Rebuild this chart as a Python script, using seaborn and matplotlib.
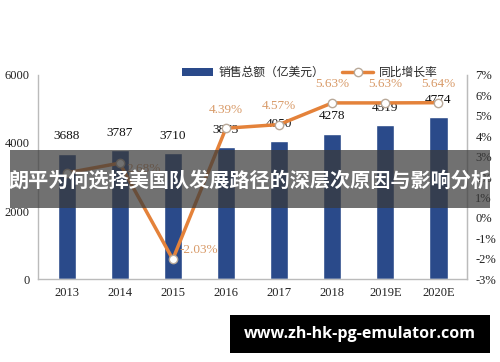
import matplotlib
matplotlib.use("Agg")
import matplotlib.pyplot as plt
import seaborn as sns
import pandas as pd
from matplotlib.patches import Rectangle
from matplotlib.lines import Line2D
from matplotlib.patches import Patch

years = ["2013", "2014", "2015", "2016", "2017", "2018", "2019E", "2020E"]
sales = [3688, 3787, 3710, 3873, 4050, 4278, 4519, 4774]
growth = [2.2, 2.68, -2.03, 4.39, 4.57, 5.63, 5.63, 5.64]
growth_labels = ["", "2.68%", "-2.03%", "4.39%", "4.57%", "5.63%", "5.63%", "5.64%"]
left_ticks = [0, 2000, 4000, 6000]
right_ticks = [-3, -2, -1, 0, 1, 2, 3, 4, 5, 6, 7]
bar_name = "销售总额（亿美元）"
line_name = "同比增长率"
banner = "朗平为何选择美国队发展路径的深层次原因与影响分析"
watermark = "www.zh-hk-pg-emulator.com"

df = pd.DataFrame({"year": years, "sales": sales, "growth": growth})

sns.set_style("white")
plt.rcParams['font.family'] = ['Liberation Serif', 'Noto Sans CJK SC', 'DejaVu Sans']

fig = plt.figure(figsize=(5, 3.62), dpi=100)
ax = fig.add_axes([0.076, 0.229, 0.858, 0.564])
bar_color = "#2A4A8A"
line_color = "#E4823A"
sns.barplot(data=df, x="year", y="sales", color=bar_color, width=0.34,
            saturation=1, ax=ax)
ax.set_ylim(0, 6000)
ax.set_yticks(left_ticks)
ax.set_xlabel("")
ax.set_ylabel("")
ax.tick_params(axis="both", labelsize=9, colors="#222222", length=0, pad=6)
for s in ["top"]:
    ax.spines[s].set_visible(False)
for s in ["left", "right", "bottom"]:
    ax.spines[s].set_color("#BBBBBB")
    ax.spines[s].set_linewidth(1)

for i, v in enumerate(sales):
    ax.annotate(str(v), (i, v), xytext=(0, 8), textcoords="offset points",
                ha="center", va="bottom", fontsize=9.5, color="#111111")

ax2 = ax.twinx()
sns.lineplot(data=df, x="year", y="growth", color=line_color, linewidth=2.5,
             marker="o", markersize=6, markerfacecolor="white",
             markeredgecolor="#B8A898", markeredgewidth=1, ax=ax2, sort=False)
ax2.set_ylim(-3, 7)
ax2.set_yticks(right_ticks)
ax2.set_yticklabels([f"{t}%" for t in right_ticks])
ax2.set_ylabel("")
ax2.tick_params(axis="y", labelsize=9, colors="#222222", length=0, pad=6)
for s in ["top", "left", "bottom"]:
    ax2.spines[s].set_visible(False)
ax2.spines["right"].set_color("#BBBBBB")

lab_col = "#D89A68"
for i, (g, t) in enumerate(zip(growth, growth_labels)):
    if not t:
        continue
    if i == 1:
        ax2.annotate(t, (i, g), xytext=(5, -4), textcoords="offset points",
                     ha="left", va="center", fontsize=9.5, color=lab_col)
    elif i == 2:
        ax2.annotate(t, (i, g), xytext=(5, 7), textcoords="offset points",
                     ha="left", va="center", fontsize=9.5, color=lab_col)
    else:
        ax2.annotate(t, (i, g), xytext=(0, 9), textcoords="offset points",
                     ha="center", va="bottom", fontsize=9.5, color=lab_col)

handles = [Patch(facecolor=bar_color, edgecolor="none"),
           Line2D([0], [0], color=line_color, lw=2.5, marker="o", markersize=6,
                  markerfacecolor="white", markeredgecolor="#B8A898")]
fig.legend(handles, [bar_name, line_name], loc="center", ncol=2,
           bbox_to_anchor=(0.62, 0.8), frameon=False,
           prop={"family": "Noto Sans CJK SC", "size": 8.5},
           handlelength=2.6, handleheight=0.7, columnspacing=1.5, handletextpad=0.5)

# Overlay banner
fig.patches.append(Rectangle((10 / 500, 1 - 208 / 362), 480 / 500, 58 / 362,
                             transform=fig.transFigure, facecolor="#3A3A3A",
                             alpha=0.72, edgecolor="none", zorder=5))
fig.text(0.5, 1 - 181 / 362, banner, ha="center", va="center", color="white",
         fontsize=14.5, fontweight="bold", family="Noto Sans CJK SC", zorder=6)

# Watermark
fig.patches.append(Rectangle((230 / 500, 1 - 353 / 362), 260 / 500, 38 / 362,
                             transform=fig.transFigure, facecolor="black",
                             edgecolor="none", zorder=5))
fig.text(360 / 500, 1 - 334 / 362, watermark, ha="center", va="center",
         color="white", fontsize=11.5, fontweight="bold", family="Open Sans",
         zorder=6)

fig.savefig("out.png", dpi=100)
